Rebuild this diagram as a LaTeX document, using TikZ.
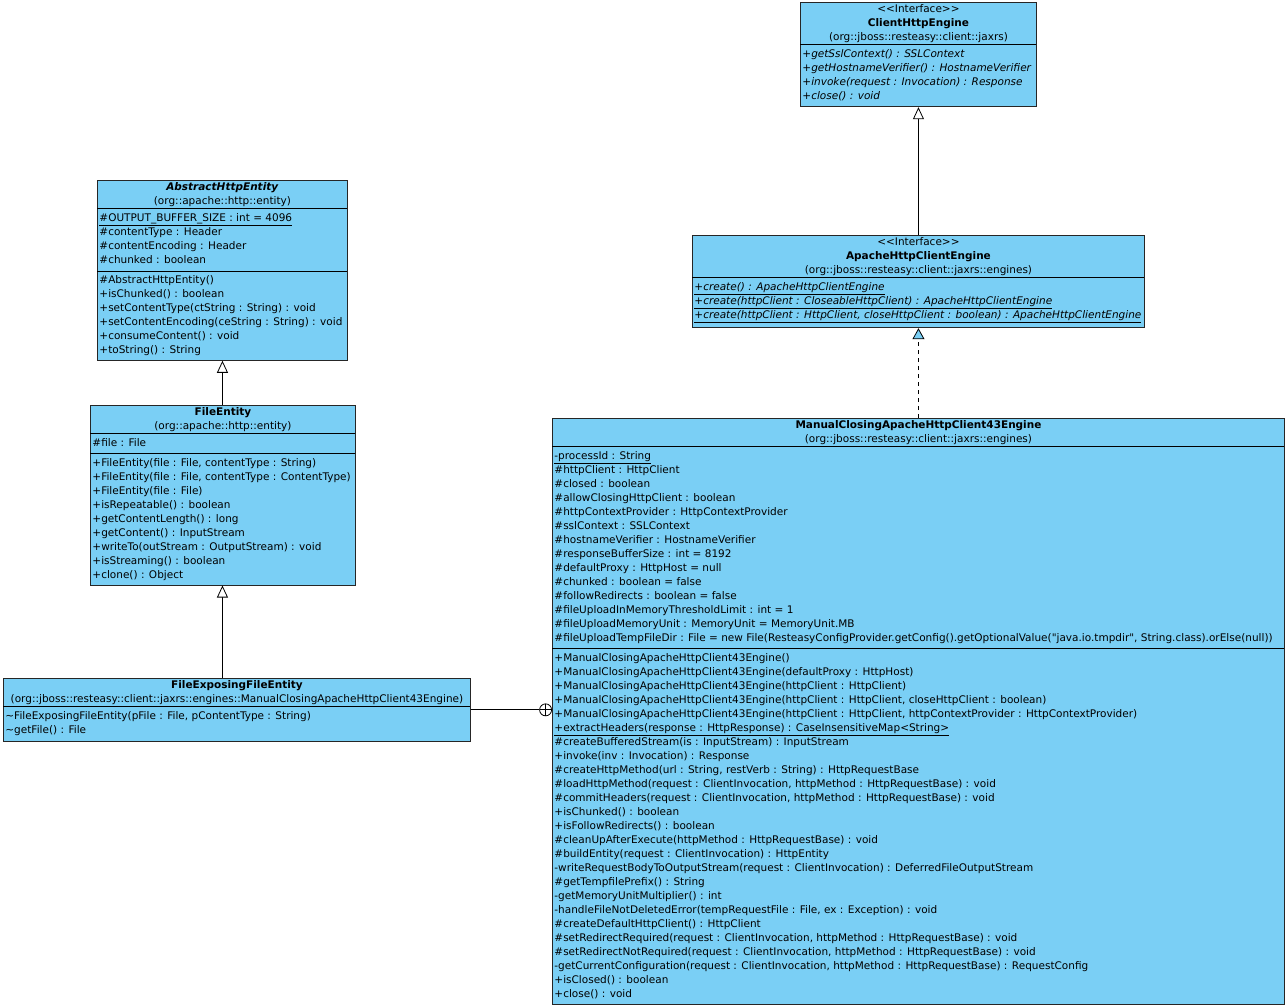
\documentclass[tikz,border=0pt]{standalone}
\usepackage{fontspec}
\setmainfont{DejaVu Sans}
\usepackage{array}
\usetikzlibrary{arrows.meta}
\definecolor{classblue}{RGB}{122, 207, 245}
\setlength{\arrayrulewidth}{0.8pt}
% one fixed-width compartment column, header lines centred
\newcolumntype{M}[1]{@{\hspace{2pt}}>{\hbox to #1\bgroup}l<{\hss\egroup}@{}}
\newcommand{\hdr}[1]{\multicolumn{1}{@{}c@{}}{#1}}
\newcommand{\cmptop}{\rule{0pt}{12.3pt}}
\newcommand{\stereo}[1]{<{}<#1>{}>}

\begin{document}
\begin{tikzpicture}[
    x=1pt, y=-1pt,
    umlclass/.style={draw=black!85, line width=0.9pt, fill=classblue, inner sep=0pt,
                     anchor=north west, font=\fontsize{10.5}{14}\selectfont},
    inherit/.style={-{Triangle[length=12pt, width=11pt, fill=white]}, line width=0.8pt},
    realize/.style={-{Triangle[length=11pt, width=12pt, fill=classblue]}, line width=0.8pt,
                    dash pattern=on 4pt off 4pt},
    nestmark/.style={circle, draw, fill=white, minimum size=12pt, inner sep=0pt, line width=0.8pt,
                     path picture={\draw (path picture bounding box.north) -- (path picture bounding box.south)
                                         (path picture bounding box.west) -- (path picture bounding box.east);}}
]
    \useasboundingbox (0,0) rectangle (1288,1007);

    % right column
    \node[umlclass] (clientEngine) at (800,2) {%
    \begin{tabular}{M{234pt}}
    \hdr{\stereo{Interface}}\\
    \hdr{\textbf{ClientHttpEngine}}\\
    \hdr{(org::jboss::resteasy::client::jaxrs)}\\ \hline
    \cmptop\textit{+getSslContext() : SSLContext}\\
    \textit{+getHostnameVerifier() : HostnameVerifier}\\
    \textit{+invoke(request : Invocation) : Response}\\
    \textit{+close() : void}\\[3pt]
    \end{tabular}};

    \node[umlclass] (apacheEngine) at (692,235) {%
    \begin{tabular}{M{450pt}}
    \hdr{\stereo{Interface}}\\
    \hdr{\textbf{ApacheHttpClientEngine}}\\
    \hdr{(org::jboss::resteasy::client::jaxrs::engines)}\\ \hline
    \cmptop\underline{\textit{+create() : ApacheHttpClientEngine}}\\
    \underline{\textit{+create(httpClient : CloseableHttpClient) : ApacheHttpClientEngine}}\\
    \underline{\textit{+create(httpClient : HttpClient, closeHttpClient : boolean) : ApacheHttpClientEngine}}\\[5pt]
    \end{tabular}};

    \node[umlclass] (manualEngine) at (552,418) {%
    \begin{tabular}{M{730pt}}
    \hdr{\textbf{ManualClosingApacheHttpClient43Engine}}\\
    \hdr{(org::jboss::resteasy::client::jaxrs::engines)}\\ \hline
    \cmptop\underline{-processId : String}\\
    \#httpClient : HttpClient\\
    \#closed : boolean\\
    \#allowClosingHttpClient : boolean\\
    \#httpContextProvider : HttpContextProvider\\
    \#sslContext : SSLContext\\
    \#hostnameVerifier : HostnameVerifier\\
    \#responseBufferSize : int = 8192\\
    \#defaultProxy : HttpHost = null\\
    \#chunked : boolean = false\\
    \#followRedirects : boolean = false\\
    \#fileUploadInMemoryThresholdLimit : int = 1\\
    \#fileUploadMemoryUnit : MemoryUnit = MemoryUnit.MB\\
    \#fileUploadTempFileDir : File = new File(ResteasyConfigProvider.getConfig().getOptionalValue(\textquotedbl java.io.tmpdir\textquotedbl, String.class).orElse(null))\\[2.5pt] \hline
    \cmptop+ManualClosingApacheHttpClient43Engine()\\
    +ManualClosingApacheHttpClient43Engine(defaultProxy : HttpHost)\\
    +ManualClosingApacheHttpClient43Engine(httpClient : HttpClient)\\
    +ManualClosingApacheHttpClient43Engine(httpClient : HttpClient, closeHttpClient : boolean)\\
    +ManualClosingApacheHttpClient43Engine(httpClient : HttpClient, httpContextProvider : HttpContextProvider)\\
    \underline{+extractHeaders(response : HttpResponse) : CaseInsensitiveMap<String>}\\
    \#createBufferedStream(is : InputStream) : InputStream\\
    +invoke(inv : Invocation) : Response\\
    \#createHttpMethod(url : String, restVerb : String) : HttpRequestBase\\
    \#loadHttpMethod(request : ClientInvocation, httpMethod : HttpRequestBase) : void\\
    \#commitHeaders(request : ClientInvocation, httpMethod : HttpRequestBase) : void\\
    +isChunked() : boolean\\
    +isFollowRedirects() : boolean\\
    \#cleanUpAfterExecute(httpMethod : HttpRequestBase) : void\\
    \#buildEntity(request : ClientInvocation) : HttpEntity\\
    -writeRequestBodyToOutputStream(request : ClientInvocation) : DeferredFileOutputStream\\
    \#getTempfilePrefix() : String\\
    -getMemoryUnitMultiplier() : int\\
    -handleFileNotDeletedError(tempRequestFile : File, ex : Exception) : void\\
    \#createDefaultHttpClient() : HttpClient\\
    \#setRedirectRequired(request : ClientInvocation, httpMethod : HttpRequestBase) : void\\
    \#setRedirectNotRequired(request : ClientInvocation, httpMethod : HttpRequestBase) : void\\
    -getCurrentConfiguration(request : ClientInvocation, httpMethod : HttpRequestBase) : RequestConfig\\
    +isClosed() : boolean\\
    +close() : void\\[2.5pt]
    \end{tabular}};

    % left column
    \node[umlclass] (abstractEntity) at (97,180) {%
    \begin{tabular}{M{248pt}}
    \hdr{\textbf{\textit{AbstractHttpEntity}}}\\
    \hdr{(org::apache::http::entity)}\\ \hline
    \cmptop\underline{\#OUTPUT\_BUFFER\_SIZE : int = 4096}\\
    \#contentType : Header\\
    \#contentEncoding : Header\\
    \#chunked : boolean\\[2.5pt] \hline
    \cmptop\#AbstractHttpEntity()\\
    +isChunked() : boolean\\
    +setContentType(ctString : String) : void\\
    +setContentEncoding(ceString : String) : void\\
    +consumeContent() : void\\
    +toString() : String\\[2.5pt]
    \end{tabular}};

    \node[umlclass] (fileEntity) at (90,405) {%
    \begin{tabular}{M{263pt}}
    \hdr{\textbf{FileEntity}}\\
    \hdr{(org::apache::http::entity)}\\ \hline
    \cmptop\#file : File\\[2.5pt] \hline
    \cmptop+FileEntity(file : File, contentType : String)\\
    +FileEntity(file : File, contentType : ContentType)\\
    +FileEntity(file : File)\\
    +isRepeatable() : boolean\\
    +getContentLength() : long\\
    +getContent() : InputStream\\
    +writeTo(outStream : OutputStream) : void\\
    +isStreaming() : boolean\\
    +clone() : Object\\[2.5pt]
    \end{tabular}};

    \node[umlclass] (exposingEntity) at (3,678) {%
    \begin{tabular}{M{465pt}}
    \hdr{\textbf{FileExposingFileEntity}}\\
    \hdr{(org::jboss::resteasy::client::jaxrs::engines::ManualClosingApacheHttpClient43Engine)}\\ \hline
    \cmptop\textasciitilde FileExposingFileEntity(pFile : File, pContentType : String)\\
    \textasciitilde getFile() : File\\[3.5pt]
    \end{tabular}};

    % nesting marker on the outer class
    \node[nestmark, anchor=east] (nest) at (exposingEntity.east -| manualEngine.west) {};

    % connectors
    \draw[inherit] (apacheEngine.north) -- (clientEngine.south);
    \draw[realize] (manualEngine.north) -- (apacheEngine.south);
    \draw[inherit] (fileEntity.north -| abstractEntity.south) -- (abstractEntity.south);
    \draw[inherit] (exposingEntity.north -| abstractEntity.south) -- (fileEntity.south -| abstractEntity.south);
    \draw[line width=0.8pt] (exposingEntity.east) -- (nest);
\end{tikzpicture}
\end{document}
